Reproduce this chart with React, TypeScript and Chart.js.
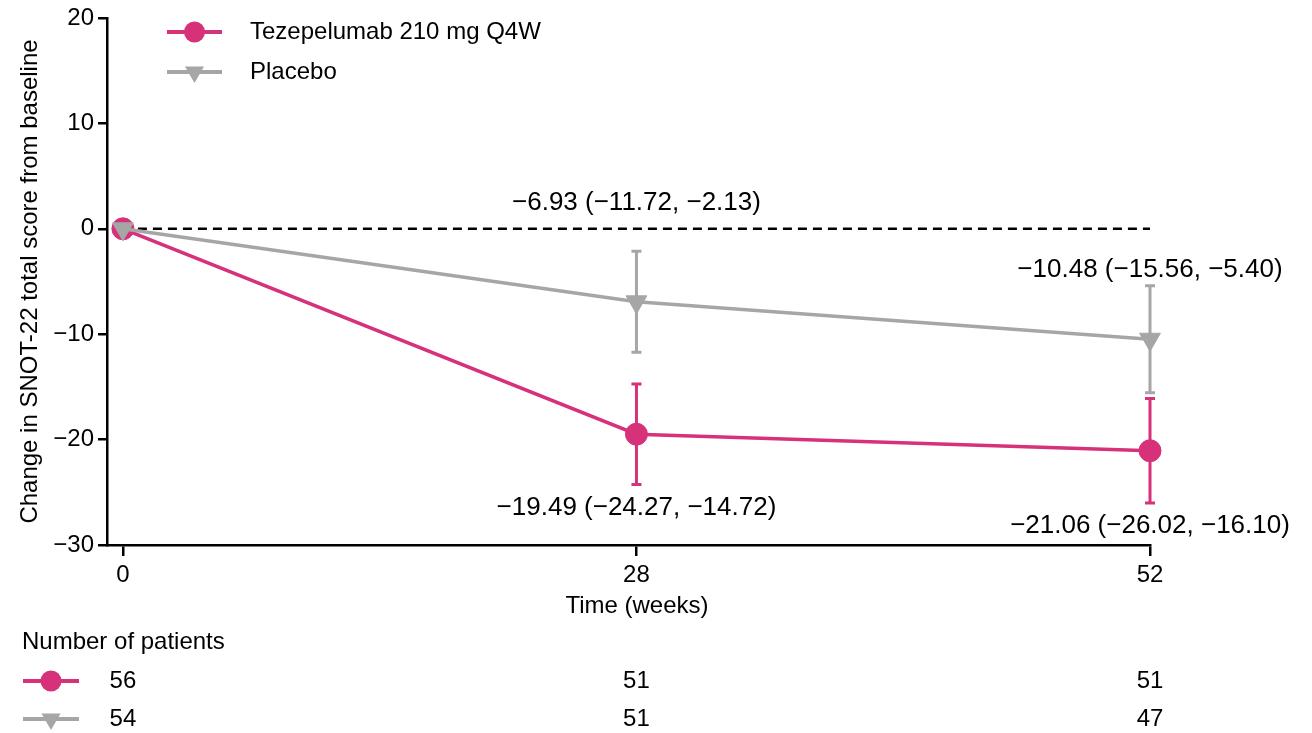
import React, { useEffect, useRef } from "react";
import { Chart, registerables } from "chart.js";

Chart.register(...registerables);

const weeks = [0, 28, 52];
const tezMean = [0, -19.49, -21.06];
const tezLow = [null, -24.27, -26.02];
const tezHigh = [null, -14.72, -16.1];
const pboMean = [0, -6.93, -10.48];
const pboLow = [null, -11.72, -15.56];
const pboHigh = [null, -2.13, -5.4];
const tezN = [56, 51, 51];
const pboN = [54, 51, 47];
const yTicks = [-30, -20, -10, 0, 10, 20];
const tezLabel = "Tezepelumab 210 mg Q4W";
const pboLabel = "Placebo";

const PINK = "#D7317A";
const GREY = "#A6A6A6";
const FONT = "'Liberation Sans', Arial, sans-serif";

const fmt = (v: number) => (v < 0 ? "\u2212" + Math.abs(v).toFixed(2) : v.toFixed(2));
const ann = (m: number, l: number, h: number) => `${fmt(m)} (${fmt(l)}, ${fmt(h)})`;

// visits are drawn at evenly spaced positions (index), labelled with their week
const pos = weeks.map((_, i) => i);

function drawCircle(ctx: CanvasRenderingContext2D, x: number, y: number, r: number, c: string) {
  ctx.beginPath();
  ctx.arc(x, y, r, 0, Math.PI * 2);
  ctx.fillStyle = c;
  ctx.fill();
}
function drawTriDown(ctx: CanvasRenderingContext2D, x: number, y: number, r: number, c: string) {
  ctx.beginPath();
  ctx.moveTo(x, y + r);
  ctx.lineTo(x - r * Math.sin(Math.PI / 3), y - r / 2);
  ctx.lineTo(x + r * Math.sin(Math.PI / 3), y - r / 2);
  ctx.closePath();
  ctx.fillStyle = c;
  ctx.fill();
}

const overlay = {
  id: "overlay",
  beforeDatasetsDraw(chart: any) {
    const ctx = chart.ctx as CanvasRenderingContext2D;
    const xs = chart.scales.x;
    const ys = chart.scales.y;
    const bars = [
      { lo: pboLow, hi: pboHigh, c: GREY },
      { lo: tezLow, hi: tezHigh, c: PINK },
    ];
    ctx.save();
    ctx.lineWidth = 3;
    for (const b of bars) {
      ctx.strokeStyle = b.c;
      pos.forEach((p, i) => {
        const lo = b.lo[i];
        const hi = b.hi[i];
        if (lo == null || hi == null) return;
        const x = xs.getPixelForValue(p);
        const y1 = ys.getPixelForValue(lo);
        const y2 = ys.getPixelForValue(hi);
        ctx.beginPath();
        ctx.moveTo(x, y1);
        ctx.lineTo(x, y2);
        ctx.moveTo(x - 5, y1);
        ctx.lineTo(x + 5, y1);
        ctx.moveTo(x - 5, y2);
        ctx.lineTo(x + 5, y2);
        ctx.stroke();
      });
    }
    ctx.restore();
  },
  afterDraw(chart: any) {
    const ctx = chart.ctx as CanvasRenderingContext2D;
    const xs = chart.scales.x;
    const ys = chart.scales.y;
    const zero = ys.getPixelForValue(0);
    ctx.save();
    ctx.fillStyle = "#000";
    ctx.textBaseline = "middle";

    // annotations
    ctx.font = `26px ${FONT}`;
    ctx.textAlign = "center";
    pos.forEach((p, i) => {
      const x = xs.getPixelForValue(p);
      if (pboHigh[i] != null) {
        const cap = ys.getPixelForValue(pboHigh[i] as number);
        let y = cap - 16;
        if (Math.abs(y - zero) < 22) y = zero - 26;
        ctx.fillText(ann(pboMean[i], pboLow[i] as number, pboHigh[i] as number), x, y);
      }
      if (tezLow[i] != null) {
        const cap = ys.getPixelForValue(tezLow[i] as number);
        ctx.fillText(ann(tezMean[i], tezLow[i] as number, tezHigh[i] as number), x, cap + 23);
      }
    });

    // axis titles
    ctx.font = `24px ${FONT}`;
    ctx.fillText("Time (weeks)", 637, 606);
    ctx.save();
    ctx.translate(30, (chart.chartArea.top + chart.chartArea.bottom) / 2);
    ctx.rotate(-Math.PI / 2);
    ctx.fillText("Change in SNOT-22 total score from baseline", 0, 0);
    ctx.restore();

    // legend
    const drawKey = (x0: number, x1: number, y: number, c: string, tri: boolean) => {
      ctx.strokeStyle = c;
      ctx.lineWidth = 4;
      ctx.beginPath();
      ctx.moveTo(x0, y);
      ctx.lineTo(x1, y);
      ctx.stroke();
      const cx = (x0 + x1) / 2;
      if (tri) drawTriDown(ctx, cx, y, 11, c);
      else drawCircle(ctx, cx, y, 10.5, c);
    };
    drawKey(167, 222, 32, PINK, false);
    drawKey(167, 222, 72, GREY, true);
    ctx.fillStyle = "#000";
    ctx.textAlign = "left";
    ctx.fillText(tezLabel, 250, 32);
    ctx.fillText(pboLabel, 250, 72);

    // number of patients table
    ctx.fillText("Number of patients", 22, 642);
    drawKey(23, 79, 681, PINK, false);
    drawKey(23, 79, 719, GREY, true);
    ctx.fillStyle = "#000";
    ctx.textAlign = "center";
    pos.forEach((p, i) => {
      const x = xs.getPixelForValue(p);
      ctx.fillText(String(tezN[i]), x, 681);
      ctx.fillText(String(pboN[i]), x, 719);
    });
    ctx.restore();
  },
};

export default function App() {
  const ref = useRef<HTMLCanvasElement>(null);
  useEffect(() => {
    document.body.style.margin = "0";
    Chart.defaults.font.family = FONT;
    Chart.defaults.color = "#000";
    const chart = new Chart(ref.current as HTMLCanvasElement, {
      type: "line",
      data: {
        datasets: [
          {
            label: pboLabel,
            data: pos.map((p, i) => ({ x: p, y: pboMean[i] })),
            borderColor: GREY,
            backgroundColor: GREY,
            borderWidth: 3.5,
            pointStyle: "triangle",
            pointRotation: 180,
            pointRadius: 12,
            pointBorderWidth: 1,
            pointBackgroundColor: GREY,
            pointBorderColor: GREY,
            clip: false,
            order: 0,
          } as any,
          {
            label: tezLabel,
            data: pos.map((p, i) => ({ x: p, y: tezMean[i] })),
            borderColor: PINK,
            backgroundColor: PINK,
            borderWidth: 3.5,
            pointStyle: "circle",
            pointRadius: 11,
            pointBorderWidth: 1,
            pointBackgroundColor: PINK,
            pointBorderColor: PINK,
            clip: false,
            order: 1,
          } as any,
          {
            label: "ref",
            data: [
              { x: pos[0], y: 0 },
              { x: pos[pos.length - 1], y: 0 },
            ],
            borderColor: "#000",
            borderWidth: 2.5,
            borderDash: [9, 6],
            pointRadius: 0,
            clip: false,
            order: 2,
          } as any,
        ],
      },
      options: {
        animation: false,
        responsive: false,
        layout: { padding: { left: 0, right: 162, top: 18, bottom: 0 } },
        plugins: { legend: { display: false }, tooltip: { enabled: false } },
        scales: {
          x: {
            type: "linear",
            min: -0.031,
            max: pos[pos.length - 1],
            afterBuildTicks: (s: any) => {
              s.ticks = pos.map((v) => ({ value: v }));
            },
            afterFit: (s: any) => {
              s.height = 188;
              s.paddingLeft = 0;
              s.paddingRight = 0;
            },
            grid: { drawOnChartArea: false, color: "#000", lineWidth: 2.5, tickLength: 11 },
            border: { color: "#000", width: 2.5 },
            ticks: {
              color: "#000",
              font: { size: 24 },
              padding: 5,
              maxRotation: 0,
              autoSkip: false,
              callback: (v: any) => String(weeks[Math.round(v)]),
            },
          },
          y: {
            min: -30,
            max: 20,
            afterBuildTicks: (s: any) => {
              s.ticks = yTicks.map((v) => ({ value: v }));
            },
            afterFit: (s: any) => {
              s.width = 107;
              s.paddingTop = 0;
              s.paddingBottom = 0;
            },
            grid: { drawOnChartArea: false, color: "#000", lineWidth: 2.5, tickLength: 9 },
            border: { color: "#000", width: 2.5 },
            ticks: {
              color: "#000",
              font: { size: 24 },
              padding: 4,
              callback: (v: any) => (v < 0 ? "\u2212" + Math.abs(v) : String(v)),
            },
          },
        },
      } as any,
      plugins: [overlay],
    });
    return () => chart.destroy();
  }, []);
  return (
    <div style={{ position: "absolute", left: 0, top: 0, width: 1312, height: 733, background: "#fff" }}>
      <canvas ref={ref} width={1312} height={733} style={{ display: "block" }} />
    </div>
  );
}
